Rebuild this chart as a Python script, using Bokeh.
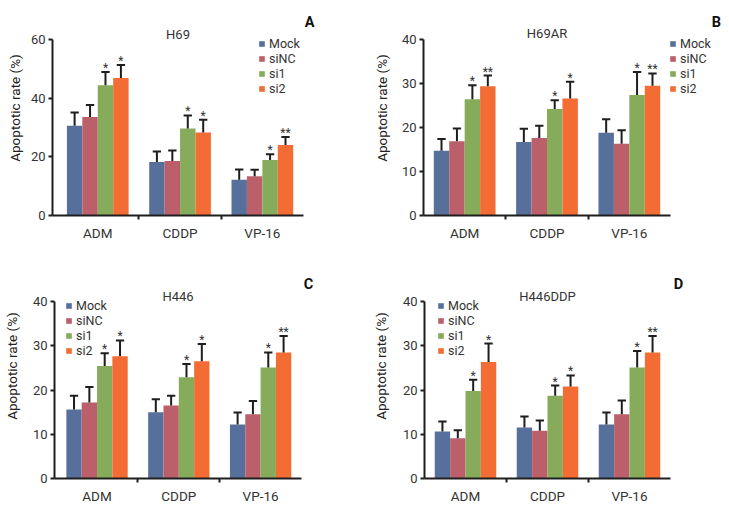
from bokeh.plotting import figure
from bokeh.layouts import column, row
from bokeh.models import FixedTicker, Legend, LegendItem, Label, Range1d
from bokeh.embed import file_html
from bokeh.resources import INLINE

# ---------------- data ----------------
categories = ["ADM", "CDDP", "VP-16"]
groups = ["Mock", "siNC", "si1", "si2"]
colors = ["#56709b", "#bb5f6b", "#86ac5b", "#f26c33"]

# Panel A: H69
a_mock = [30.6, 18.2, 12.2]
a_sinc = [33.6, 18.6, 13.4]
a_si1 = [44.4, 29.7, 18.9]
a_si2 = [46.9, 28.3, 24.0]
a_mock_err = [4.5, 3.6, 3.5]
a_sinc_err = [4.1, 3.6, 2.2]
a_si1_err = [4.5, 4.4, 2.0]
a_si2_err = [4.4, 4.3, 2.8]
a_si1_sig = ["*", "*", "*"]
a_si2_sig = ["*", "*", "**"]

# Panel B: H69AR
b_mock = [14.7, 16.7, 18.8]
b_sinc = [16.9, 17.6, 16.3]
b_si1 = [26.4, 24.2, 27.4]
b_si2 = [29.4, 26.6, 29.5]
b_mock_err = [2.7, 3.0, 3.1]
b_sinc_err = [2.9, 2.8, 3.1]
b_si1_err = [3.2, 2.0, 5.2]
b_si2_err = [2.4, 3.8, 2.8]
b_si1_sig = ["*", "*", "*"]
b_si2_sig = ["**", "*", "**"]

# Panel C: H446
c_mock = [15.6, 15.0, 12.2]
c_sinc = [17.2, 16.5, 14.5]
c_si1 = [25.4, 22.9, 25.1]
c_si2 = [27.6, 26.5, 28.5]
c_mock_err = [3.1, 2.9, 2.7]
c_sinc_err = [3.5, 2.2, 3.0]
c_si1_err = [2.9, 3.0, 3.4]
c_si2_err = [3.6, 3.9, 3.7]
c_si1_sig = ["*", "*", "*"]
c_si2_sig = ["*", "*", "**"]

# Panel D: H446DDP
d_mock = [10.6, 11.5, 12.2]
d_sinc = [9.1, 10.8, 14.5]
d_si1 = [19.8, 18.7, 25.1]
d_si2 = [26.3, 20.8, 28.5]
d_mock_err = [2.3, 2.5, 2.7]
d_sinc_err = [1.8, 2.3, 3.1]
d_si1_err = [2.5, 2.3, 3.7]
d_si2_err = [4.2, 2.5, 3.7]
d_si1_sig = ["*", "*", "*"]
d_si2_sig = ["*", "*", "**"]

a_ticks = [0, 20, 40, 60]
bcd_ticks = [0, 10, 20, 30, 40]

FONT = "Roboto"
INK = "#1e1e1e"
TXT = "#333333"
BAR_W = 0.1875
OFFSETS = [-1.5 * BAR_W, -0.5 * BAR_W, 0.5 * BAR_W, 1.5 * BAR_W]


def make_panel(title, letter, means, errs, sigs, ymax, yticks, geom):
    # W, H: figure size; BL, BB: left/bottom borders; AXW, AXH: pixel length of axes
    (W, H, BL, BB, AXW, AXH, x0, leg_xy, let_x, title_dy, xstand, ylab_stand) = geom
    FW, FH = W - BL, H - BB
    x1 = 2.5
    p = figure(frame_width=FW, frame_height=FH, min_border_left=BL, min_border_right=0,
               min_border_top=0, min_border_bottom=BB, title=None,
               x_range=Range1d(x0, x0 + (x1 - x0) * FW / AXW),
               y_range=Range1d(0, ymax * FH / AXH),
               output_backend="svg", toolbar_location=None, tools="")
    p.outline_line_color = None
    p.grid.visible = False
    p.background_fill_color = "white"
    p.border_fill_color = "white"

    items = []
    for gi, g in enumerate(groups):
        xs = [ci + OFFSETS[gi] for ci in range(len(categories))]
        tops = [m + e for m, e in zip(means[gi], errs[gi])]
        r = p.vbar(x=xs, top=means[gi], bottom=0, width=BAR_W,
                   fill_color=colors[gi], line_color=None)
        items.append(LegendItem(label=g, renderers=[r]))
        p.segment(x0=xs, y0=means[gi], x1=xs, y1=tops, line_color=INK, line_width=2)
        p.segment(x0=[x - BAR_W * 0.27 for x in xs], y0=tops,
                  x1=[x + BAR_W * 0.27 for x in xs], y1=tops,
                  line_color=INK, line_width=2)
        if sigs[gi] is not None:
            p.text(x=xs, y=tops, text=sigs[gi], text_align="center",
                   text_baseline="alphabetic", y_offset=-4, text_font_size="12px",
                   text_color=TXT, text_font={"value": FONT})

    legend = Legend(items=items, location=leg_xy, glyph_width=7, glyph_height=7,
                    label_height=15, spacing=0, padding=0, margin=0,
                    border_line_color=None, background_fill_alpha=0,
                    label_text_font_size="12.5px", label_text_font=FONT,
                    label_text_color=TXT, label_standoff=4)
    p.add_layout(legend)

    p.add_layout(Label(x=AXW / 2, y=AXH + title_dy, x_units="screen", y_units="screen",
                       text=title, text_font=FONT, text_font_size="13px",
                       text_align="center", text_baseline="alphabetic",
                       text_color=TXT))
    p.add_layout(Label(x=let_x, y=AXH + 17.5, x_units="screen", y_units="screen",
                       text=letter, text_font=FONT, text_font_size="14.5px",
                       text_font_style="bold", text_align="center",
                       text_baseline="alphabetic", text_color="#111111"))

    xa = p.xaxis[0]
    xa.bounds = (x0, x1)
    xa.ticker = FixedTicker(ticks=[0, 1, 2], minor_ticks=[0.5, 1.5])
    xa.major_label_overrides = {i: c for i, c in enumerate(categories)}
    xa.major_tick_out = 0
    xa.major_tick_in = 0
    xa.minor_tick_out = 4
    xa.minor_tick_in = 0
    xa.minor_tick_line_width = 2
    xa.minor_tick_line_color = INK
    xa.axis_line_width = 2
    xa.axis_line_color = INK
    xa.major_label_text_font = FONT
    xa.major_label_text_font_size = "13.5px"
    xa.major_label_text_color = TXT
    xa.major_label_standoff = xstand

    ya = p.yaxis[0]
    ya.bounds = (0, ymax)
    ya.ticker = FixedTicker(ticks=yticks)
    ya.major_tick_out = 4
    ya.major_tick_in = 0
    ya.minor_tick_out = 0
    ya.minor_tick_in = 0
    ya.major_tick_line_width = 2
    ya.major_tick_line_color = INK
    ya.axis_line_width = 2
    ya.axis_line_color = INK
    ya.major_label_text_font = FONT
    ya.major_label_text_font_size = "13px"
    ya.major_label_text_color = TXT
    ya.major_label_standoff = 3
    ya.axis_label = "Apoptotic rate (%)"
    ya.axis_label_text_font = FONT
    ya.axis_label_text_font_size = "13.5px"
    ya.axis_label_text_font_style = "normal"
    ya.axis_label_text_color = "#222222"
    ya.axis_label_standoff = ylab_stand
    return p


# geometry: W, H, BL, BB, axis px width, axis px height, x start,
#           legend bottom-left (screen, from frame bottom-left), letter x, title baseline above axis,
#           x-label standoff, y-label standoff
pa = make_panel("H69", "A",
                [a_mock, a_sinc, a_si1, a_si2],
                [a_mock_err, a_sinc_err, a_si1_err, a_si2_err],
                [None, None, a_si1_sig, a_si2_sig],
                60, a_ticks,
                (365, 253, 52, 38, 251, 176, -0.55, (206, 119), 257, 5, 5, 5))
pb = make_panel("H69AR", "B",
                [b_mock, b_sinc, b_si1, b_si2],
                [b_mock_err, b_sinc_err, b_si1_err, b_si2_err],
                [None, None, b_si1_sig, b_si2_sig],
                40, bcd_ticks,
                (362, 253, 58, 38, 247, 176, -0.5, (246, 119), 293, 6, 5, 9))
pc = make_panel("H446", "C",
                [c_mock, c_sinc, c_si1, c_si2],
                [c_mock_err, c_sinc_err, c_si1_err, c_si2_err],
                [None, None, c_si1_sig, c_si2_sig],
                40, bcd_ticks,
                (365, 254, 54, 29, 247, 177, -0.52, (11, 120), 254, 5, 5, 10))
pd = make_panel("H446DDP", "D",
                [d_mock, d_sinc, d_si1, d_si2],
                [d_mock_err, d_sinc_err, d_si1_err, d_si2_err],
                [None, None, d_si1_sig, d_si2_sig],
                40, bcd_ticks,
                (362, 254, 59, 29, 246, 177, -0.5, (13, 120), 254, 5, 5, 11))

layout = column(row(pa, pb), row(pc, pd))
open("out.html", "w").write(file_html(layout, INLINE))
